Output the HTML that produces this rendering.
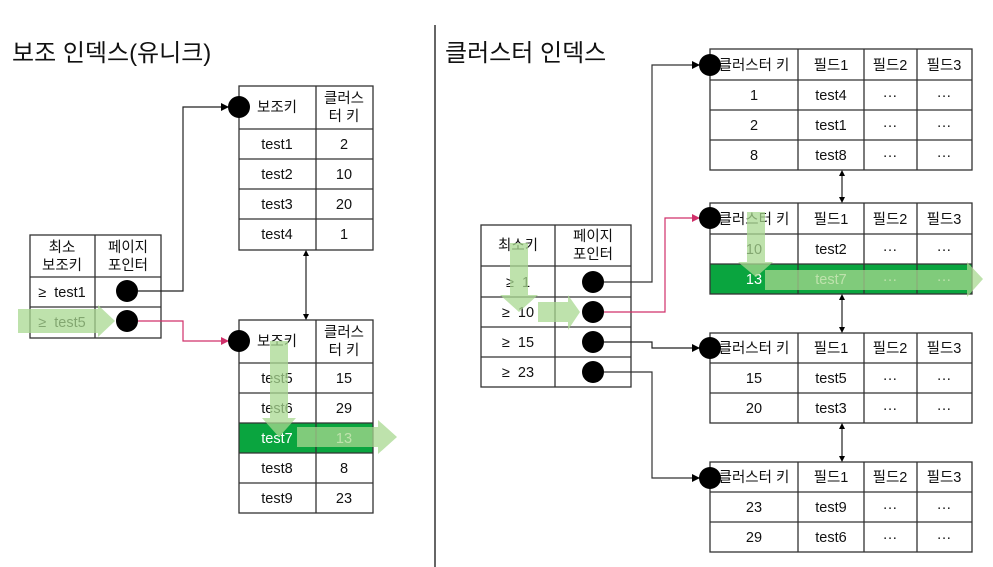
<!DOCTYPE html>
<html><head><meta charset="utf-8"><style>
html,body{margin:0;padding:0;background:#fff;}
svg{display:block;}
text{font-family:"Liberation Sans","Noto Sans CJK KR",sans-serif;fill:#111;white-space:pre;}
</style></head><body>
<svg width="993" height="567" viewBox="0 0 993 567" xmlns="http://www.w3.org/2000/svg">
<defs>
<marker id="ab" markerWidth="8" markerHeight="8" refX="7" refY="4" orient="auto" markerUnits="userSpaceOnUse"><path d="M0,0 L8,4 L0,8 z" fill="#000"/></marker>
<marker id="ap" markerWidth="8" markerHeight="8" refX="7" refY="4" orient="auto" markerUnits="userSpaceOnUse"><path d="M0,0 L8,4 L0,8 z" fill="#d0306a"/></marker>
<marker id="as" markerWidth="6" markerHeight="6" refX="3" refY="3" orient="auto-start-reverse" markerUnits="userSpaceOnUse"><path d="M0,0 L6,3 L0,6 z" fill="#000"/></marker>
</defs>

<text x="12" y="61" font-size="24">보조 인덱스(유니크)</text>
<text x="445" y="61" font-size="24">클러스터 인덱스</text>
<line x1="435" y1="25" x2="435" y2="567" stroke="#333" stroke-width="1.5"/>

<g font-size="14.5" text-anchor="middle" stroke="none">
<g fill="none" stroke="#333" stroke-width="1.3">
<rect x="30" y="235" width="131" height="103"/>
<line x1="95" y1="235" x2="95" y2="338"/>
<line x1="30" y1="277" x2="161" y2="277"/>
<line x1="30" y1="307" x2="161" y2="307"/>
</g>
<text x="62" y="252">최소</text><text x="62" y="270">보조키</text>
<text x="128" y="252">페이지</text><text x="128" y="270">포인터</text>
<text x="62" y="297" xml:space="preserve">≥  test1</text>
<text x="62" y="327" xml:space="preserve">≥  test5</text>

<g fill="none" stroke="#333" stroke-width="1.3">
<rect x="239" y="86" width="134" height="164"/>
<line x1="316" y1="86" x2="316" y2="250"/>
<line x1="239" y1="129" x2="373" y2="129"/>
<line x1="239" y1="159" x2="373" y2="159"/>
<line x1="239" y1="189" x2="373" y2="189"/>
<line x1="239" y1="219" x2="373" y2="219"/>
</g>
<text x="277" y="112">보조키</text>
<text x="344" y="103">클러스</text><text x="344" y="121">터 키</text>
<text x="277" y="149">test1</text><text x="344" y="149">2</text>
<text x="277" y="179">test2</text><text x="344" y="179">10</text>
<text x="277" y="209">test3</text><text x="344" y="209">20</text>
<text x="277" y="239">test4</text><text x="344" y="239">1</text>

<rect x="239" y="423" width="134" height="30" fill="#0aa53f"/>
<g fill="none" stroke="#333" stroke-width="1.3">
<rect x="239" y="320" width="134" height="193"/>
<line x1="316" y1="320" x2="316" y2="513"/>
<line x1="239" y1="363" x2="373" y2="363"/>
<line x1="239" y1="393" x2="373" y2="393"/>
<line x1="239" y1="423" x2="373" y2="423"/>
<line x1="239" y1="453" x2="373" y2="453"/>
<line x1="239" y1="483" x2="373" y2="483"/>
</g>
<text x="277" y="346">보조키</text>
<text x="344" y="337">클러스</text><text x="344" y="355">터 키</text>
<text x="277" y="383">test5</text><text x="344" y="383">15</text>
<text x="277" y="413">test6</text><text x="344" y="413">29</text>
<text x="277" y="443" style="fill:#fff">test7</text><text x="344" y="443" style="fill:#fff">13</text>
<text x="277" y="473">test8</text><text x="344" y="473">8</text>
<text x="277" y="503">test9</text><text x="344" y="503">23</text>

<g fill="none" stroke="#333" stroke-width="1.3">
<rect x="481" y="225" width="150" height="162"/>
<line x1="555" y1="225" x2="555" y2="387"/>
<line x1="481" y1="266" x2="631" y2="266"/>
<line x1="481" y1="297" x2="631" y2="297"/>
<line x1="481" y1="327" x2="631" y2="327"/>
<line x1="481" y1="357" x2="631" y2="357"/>
</g>
<text x="518" y="250">최소키</text>
<text x="593" y="241">페이지</text><text x="593" y="259">포인터</text>
<text x="518" y="287" xml:space="preserve">≥  1</text>
<text x="518" y="317" xml:space="preserve">≥  10</text>
<text x="518" y="347" xml:space="preserve">≥  15</text>
<text x="518" y="377" xml:space="preserve">≥  23</text>
</g>

<g font-size="14.5" text-anchor="middle">
<rect x="710" y="264" width="262" height="30" fill="#0aa53f"/>
<g fill="none" stroke="#333" stroke-width="1.3">
<rect x="710" y="49" width="262" height="121"/>
<line x1="710" y1="80" x2="972" y2="80"/><line x1="710" y1="110" x2="972" y2="110"/><line x1="710" y1="140" x2="972" y2="140"/>
<line x1="798" y1="49" x2="798" y2="170"/><line x1="864" y1="49" x2="864" y2="170"/><line x1="917" y1="49" x2="917" y2="170"/>

<rect x="710" y="203" width="262" height="91"/>
<line x1="710" y1="234" x2="972" y2="234"/><line x1="710" y1="264" x2="972" y2="264"/>
<line x1="798" y1="203" x2="798" y2="294"/><line x1="864" y1="203" x2="864" y2="294"/><line x1="917" y1="203" x2="917" y2="294"/>

<rect x="710" y="333" width="262" height="90"/>
<line x1="710" y1="363" x2="972" y2="363"/><line x1="710" y1="393" x2="972" y2="393"/>
<line x1="798" y1="333" x2="798" y2="423"/><line x1="864" y1="333" x2="864" y2="423"/><line x1="917" y1="333" x2="917" y2="423"/>

<rect x="710" y="462" width="262" height="90"/>
<line x1="710" y1="492" x2="972" y2="492"/><line x1="710" y1="522" x2="972" y2="522"/>
<line x1="798" y1="462" x2="798" y2="552"/><line x1="864" y1="462" x2="864" y2="552"/><line x1="917" y1="462" x2="917" y2="552"/>
</g>
<g>
<text x="754" y="70">클러스터 키</text><text x="831" y="70">필드1</text><text x="890" y="70">필드2</text><text x="944" y="70">필드3</text>
<text x="754" y="100">1</text><text x="831" y="100">test4</text><text x="890" y="100">···</text><text x="944" y="100">···</text>
<text x="754" y="130">2</text><text x="831" y="130">test1</text><text x="890" y="130">···</text><text x="944" y="130">···</text>
<text x="754" y="160">8</text><text x="831" y="160">test8</text><text x="890" y="160">···</text><text x="944" y="160">···</text>

<text x="754" y="224">클러스터 키</text><text x="831" y="224">필드1</text><text x="890" y="224">필드2</text><text x="944" y="224">필드3</text>
<text x="754" y="254">10</text><text x="831" y="254">test2</text><text x="890" y="254">···</text><text x="944" y="254">···</text>
<text x="754" y="284" style="fill:#fff">13</text><text x="831" y="284" style="fill:#fff">test7</text><text x="890" y="284" style="fill:#fff">···</text><text x="944" y="284" style="fill:#fff">···</text>

<text x="754" y="353">클러스터 키</text><text x="831" y="353">필드1</text><text x="890" y="353">필드2</text><text x="944" y="353">필드3</text>
<text x="754" y="383">15</text><text x="831" y="383">test5</text><text x="890" y="383">···</text><text x="944" y="383">···</text>
<text x="754" y="413">20</text><text x="831" y="413">test3</text><text x="890" y="413">···</text><text x="944" y="413">···</text>

<text x="754" y="482">클러스터 키</text><text x="831" y="482">필드1</text><text x="890" y="482">필드2</text><text x="944" y="482">필드3</text>
<text x="754" y="512">23</text><text x="831" y="512">test9</text><text x="890" y="512">···</text><text x="944" y="512">···</text>
<text x="754" y="542">29</text><text x="831" y="542">test6</text><text x="890" y="542">···</text><text x="944" y="542">···</text>
</g>
</g>

<g fill="none" stroke-width="1.2">
<polyline points="138,291 183,291 183,107 228,107" stroke="#222" marker-end="url(#ab)"/>
<polyline points="138,321 183,321 183,341 228,341" stroke="#d0306a" marker-end="url(#ap)"/>
<line x1="306" y1="253" x2="306" y2="317" stroke="#222" marker-start="url(#as)" marker-end="url(#as)"/>

<polyline points="604,282 652,282 652,65 699,65" stroke="#333" marker-end="url(#ab)"/>
<polyline points="604,312 665,312 665,218 699,218" stroke="#d0306a" marker-end="url(#ap)"/>
<polyline points="604,342 652,342 652,348 699,348" stroke="#222" marker-end="url(#ab)"/>
<polyline points="604,372 652,372 652,478 699,478" stroke="#333" marker-end="url(#ab)"/>
<line x1="842" y1="173" x2="842" y2="200" stroke="#222" marker-start="url(#as)" marker-end="url(#as)"/>
<line x1="842" y1="297" x2="842" y2="330" stroke="#222" marker-start="url(#as)" marker-end="url(#as)"/>
<line x1="842" y1="426" x2="842" y2="459" stroke="#222" marker-start="url(#as)" marker-end="url(#as)"/>
</g>

<g fill="#000">
<circle cx="127" cy="291" r="11"/><circle cx="127" cy="321" r="11"/>
<circle cx="239" cy="107" r="11"/><circle cx="239" cy="341" r="11"/>
<circle cx="593" cy="282" r="11"/><circle cx="593" cy="312" r="11"/><circle cx="593" cy="342" r="11"/><circle cx="593" cy="372" r="11"/>
<circle cx="710" cy="65" r="11"/><circle cx="710" cy="218" r="11"/><circle cx="710" cy="348" r="11"/><circle cx="710" cy="478" r="11"/>
</g>

<g fill="#a8d890" fill-opacity="0.75">
<polygon points="18,309 98,309 98,305 115,321 98,337 98,333 18,333"/>
<polygon points="270,341 288,341 288,418 296,418 279,437 262,418 270,418"/>
<polygon points="297,427 378,427 378,420 397,437 378,454 378,447 297,447"/>
<polygon points="510,243 528,243 528,295 538,295 519,312 500,295 510,295"/>
<polygon points="538,302 568,302 568,295 580,312 568,330 568,322 538,322"/>
<polygon points="747,212 765,212 765,262 773,262 756,277 738,262 747,262"/>
<polygon points="765,270 967,270 967,262 983,279 967,297 967,290 765,290"/>
</g>
</svg>
</body></html>
